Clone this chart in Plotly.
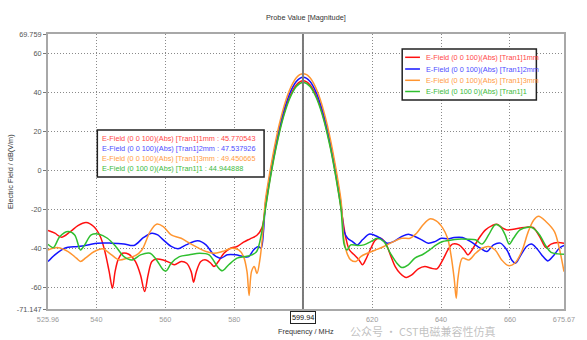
import plotly.graph_objects as go

# ---------------- data (frequency MHz, field dB(V/m)) ----------------
red_f = [525.96, 527.96, 529.87, 532.26, 534.64, 537.03, 539.22, 541.13, 542.47, 543.71, 544.66, 545.42,
         546.28, 547.5, 549.4, 551.3, 552.8, 554.0, 555.0, 556.1, 557.45, 559.4, 561.3, 562.7, 564.6,
         566.2, 567.5, 568.2, 569.0, 570.3, 571.8, 573.2, 574.1, 575.4, 577.0, 578.9, 580.8, 582.7,
         584.6, 586.5, 588.0,
         589, 590, 591, 592, 593, 594, 595, 596, 597, 598, 599, 600, 601, 602, 603, 604, 605, 606, 607,
         608, 609, 610, 611,
         612.4, 613.4, 614.8, 616.2, 617.2, 618.1, 619.4, 621.0, 622.4, 623.9, 625.3, 626.7, 628.1,
         629.9, 631.5, 633.4, 635.3, 637.2, 638.8, 640.5, 642.1, 643.3, 645.2, 646.7, 647.8, 649.0,
         651.0, 652.9, 654.8, 656.2, 657.6, 659.1, 661.0, 662.9, 664.8, 666.7, 668.6, 670.5, 671.9,
         673.9, 675.67]
red_db = [-30.9, -32.3, -34.4, -31.8, -28.4, -26.8, -28.9, -34.0, -41.7, -52.0, -60.5, -52.0,
          -46.0, -42.6, -43.1, -46.8, -53.7, -62.2, -53.7, -46.8, -45.5, -46.0, -47.4, -48.5, -46.8,
          -47.7, -52.0, -57.4, -52.0, -46.8, -46.0, -47.7, -49.4, -46.8, -42.6, -40.0, -39.1, -36.9,
          -35.2, -33.5, -29.7,
          -19.6, -8.2, 2.0, 11.2, 19.3, 26.3, 32.3, 37.1, 40.9, 43.6, 45.2, 45.770543, 45.2, 43.6, 40.9,
          37.1, 32.3, 26.3, 19.3, 11.2, 2.0, -8.2, -19.6,
          -34.9, -40.9, -43.4, -46.0, -48.5, -46.0, -40.9, -35.7, -34.9, -37.4, -43.4, -49.4, -52.8,
          -55.0, -53.7, -50.6, -49.4, -50.3, -50.6, -46.0, -40.5, -37.9, -38.3, -40.9, -43.4, -40.9,
          -34.9, -30.6, -28.4, -27.7, -29.4, -30.6, -30.3, -29.7, -29.2, -29.4, -34.0, -39.7, -37.9,
          -37.1, -37.4]

blue_f = [525.96, 527.96, 530.8, 534.64, 537.5, 540.4, 544.2, 548.0, 550.9, 553.7, 556.1, 557.8,
          559.4, 561.7, 563.7, 566.0, 569.4, 571.8, 574.1, 576.1, 578.0, 580.4, 582.7, 584.2, 585.6,
          587.0, 587.8, 588.5,
          589, 590, 591, 592, 593, 594, 595, 596, 597, 598, 599, 600, 601, 602, 603, 604, 605, 606, 607,
          608, 609, 610, 611,
          611.9, 612.9, 614.3, 615.7, 617.2, 619.1, 620.5, 622.4, 624.3, 626.2, 628.6, 630.5, 632.4,
          634.4, 636.3, 638.2, 640.1, 642.0, 643.8, 646.2, 648.6, 651.4, 653.3, 655.2, 657.2, 659.1,
          660.5, 661.6, 662.9, 664.8, 666.2, 667.7, 669.6, 671.0, 672.4, 674.3, 675.67]
blue_db = [-46.8, -43.4, -40.0, -39.1, -38.3, -37.4, -37.4, -37.8, -38.6, -34.5, -32.3, -33.2,
           -35.7, -39.1, -40.3, -38.3, -36.2, -38.3, -43.4, -45.1, -43.4, -43.4, -44.3, -44.3, -40.9,
           -39.1, -40.0, -31.0,
           -17.8, -6.5, 3.8, 12.9, 21.0, 28.1, 34.0, 38.9, 42.7, 45.4, 47.0, 47.537926, 47.0, 45.4, 42.7,
           38.9, 34.0, 28.1, 21.0, 12.9, 3.8, -6.5, -17.8,
           -31.5, -34.9, -36.6, -38.3, -35.7, -32.8, -33.2, -34.9, -37.4, -36.6, -34.0, -32.8, -34.0,
           -35.7, -37.4, -36.6, -34.9, -35.2, -34.5, -34.5, -36.6, -40.0, -41.7, -38.3, -37.4, -40.9,
           -46.0, -47.7, -44.3, -39.1, -37.9, -40.0, -44.3, -46.5, -44.3, -40.0, -38.6]

orange_f = [525.96, 528.9, 531.8, 534.2, 535.4, 537.0, 539.4, 541.8, 544.2, 546.6, 549.0, 551.3,
            553.2, 555.6, 557.45, 559.4, 561.7, 564.6, 567.0, 569.4, 571.8, 574.1, 576.5, 579.4,
            581.3, 582.7, 583.7, 584.3, 585.0, 585.8, 586.6, 587.5, 588.4,
            589, 590, 591, 592, 593, 594, 595, 596, 597, 598, 599, 600, 601, 602, 603, 604, 605, 606,
            607, 608, 609, 610, 611,
            611.9, 612.9, 613.8, 615.3, 616.7, 618.6, 621.0, 623.4, 626.2, 628.6, 631.0, 632.9, 634.8,
            636.7, 638.6, 640.5, 641.9, 642.8, 643.8, 644.4, 644.9, 646.2, 648.1, 650.0, 651.9, 653.8,
            655.7, 657.6, 659.5, 661.4, 663.4, 665.3, 666.9, 668.3, 670.4, 672.9, 674.3, 675.67]
orange_db = [-40.9, -39.7, -41.7, -45.1, -46.8, -44.8, -41.7, -40.3, -43.1, -46.0, -45.1, -43.8,
             -40.9, -31.5, -27.7, -28.9, -33.2, -34.9, -37.4, -39.7, -41.7, -42.6, -41.7, -40.0,
             -40.9, -44.3, -52.0, -64.2, -52.0, -49.4, -52.9, -45.1, -29.7,
             -15.9, -4.5, 5.7, 14.9, 23.0, 30.0, 36.0, 40.8, 44.6, 47.3, 48.9, 49.450665, 48.9, 47.3,
             44.6, 40.8, 36.0, 30.0, 23.0, 14.9, 5.7, -4.5, -15.9,
             -36.6, -43.4, -46.0, -46.8, -44.3, -42.6, -40.9, -39.1, -36.6, -34.9, -34.9, -32.3, -28.0,
             -25.0, -26.0, -29.7, -34.9, -42.6, -55.4, -65.6, -55.4, -45.1, -46.0, -42.6, -40.0, -39.1,
             -40.9, -46.0, -48.9, -47.7, -41.7, -31.5, -25.5, -23.6, -26.3, -31.5, -40.0, -52.0]

green_f = [525.96, 527.5, 529.4, 531.8, 533.7, 535.4, 536.6, 538.5, 540.8, 543.2, 545.6, 548.0,
           550.4, 552.8, 555.6, 557.45, 559.4, 560.3, 561.7, 564.1, 567.0, 569.9, 572.7, 575.1,
           576.5, 578.4, 580.8, 583.2, 585.1, 586.5, 588.0,
           589, 590, 591, 592, 593, 594, 595, 596, 597, 598, 599, 600, 601, 602, 603, 604, 605, 606,
           607, 608, 609, 610, 611,
           611.9, 612.7, 613.8, 615.7, 617.6, 619.6, 621.5, 623.4, 625.3, 627.2, 628.6, 630.5, 632.4,
           634.8, 636.7, 638.6, 640.5, 642.1, 644.8, 647.6, 650.0, 651.9, 653.8, 655.7, 657.2, 658.6,
           659.8, 661.0, 662.9, 665.3, 666.7, 668.6, 670.5, 671.9, 673.9, 675.67]
green_db = [-38.0, -39.7, -34.0, -31.5, -33.2, -40.9, -38.3, -33.2, -32.8, -34.9, -39.1, -44.3,
            -46.0, -43.4, -42.6, -46.0, -51.1, -51.6, -47.7, -44.3, -43.4, -42.6, -43.4, -49.4,
            -51.6, -48.5, -45.1, -44.3, -43.4, -41.7, -31.5,
            -20.4, -9.1, 1.2, 10.4, 18.4, 25.5, 31.4, 36.3, 40.1, 42.8, 44.4, 44.944888, 44.4, 42.8,
            40.1, 36.3, 31.4, 25.5, 18.4, 10.4, 1.2, -9.1, -20.4,
            -38.3, -40.9, -38.3, -38.6, -38.3, -36.6, -34.9, -36.6, -42.6, -47.7, -49.9, -48.5, -45.1,
            -43.1, -40.9, -38.3, -36.6, -36.1, -35.4, -35.4, -35.7, -37.9, -33.2, -28.0, -28.9, -33.2,
            -37.9, -34.9, -30.6, -29.2, -29.7, -33.2, -39.1, -42.1, -42.9, -43.1]

series_names = ["E-Field (0 0 100)(Abs) [Tran1]1mm",
                "E-Field (0 0 100)(Abs) [Tran1]2mm",
                "E-Field (0 0 100)(Abs) [Tran1]3mm",
                "E-Field (0 100 0)(Abs) [Tran1]1"]
marker_values = ["45.770543", "47.537926", "49.450665", "44.944888"]
marker_freq = 599.94

x_ticks = [525.96, 540, 560, 580, 600, 620, 640, 660, 675.67]
# the 600 label is hidden behind the marker readout box in the reference
x_tick_labels = ["525.96", "540", "560", "580", "", "620", "640", "660", "675.67"]
y_ticks = [-71.147, -60, -40, -20, 0, 20, 40, 60, 69.759]
y_tick_labels = ["-71.147", "-60", "-40", "-20", "0", "20", "40", "60", "69.759"]

line_colors = ["#ff1010", "#1414ff", "#ff9530", "#2fbf2f"]
text_colors = ["#ff4848", "#4e4eff", "#ff9c45", "#3cba3c"]

FONT = "Liberation Sans"
FS = 7.3

# ---------------- figure ----------------
W, H = 587, 340
L, R, T, B = 48, 16, 34, 31
PW, PH = W - L - R, H - T - B


def px(xp):
    return (xp - L) / PW


def py(yp):
    return (H - B - yp) / PH


fig = go.Figure()
all_f = [red_f, blue_f, orange_f, green_f]
all_db = [red_db, blue_db, orange_db, green_db]
for f, d, c, n in zip(all_f, all_db, line_colors, series_names):
    fig.add_trace(go.Scatter(x=f, y=d, mode="lines", name=n, showlegend=False,
                             line=dict(color=c, width=1.5, shape="spline", smoothing=0.9)))

fig.update_layout(
    width=W, height=H,
    margin=dict(l=L, r=R, t=T, b=B),
    plot_bgcolor="white", paper_bgcolor="white",
    font=dict(family=FONT, size=FS, color="#333"),
    showlegend=False,
)
fig.update_xaxes(range=[x_ticks[0], x_ticks[-1]], tickmode="array", tickvals=x_ticks,
                 ticktext=x_tick_labels, showgrid=True, gridcolor="#8a8a8a", griddash="1px,2px",
                 gridwidth=1, zeroline=False, showline=True, linecolor="#a8a8a8", linewidth=2,
                 mirror=True, ticks="", tickfont=dict(size=FS, color="#9a9a9a", family=FONT),
                 ticklabelstandoff=2)
fig.update_yaxes(range=[y_ticks[0], y_ticks[-1]], tickmode="array", tickvals=y_ticks,
                 ticktext=y_tick_labels, showgrid=True, gridcolor="#8a8a8a", griddash="1px,2px",
                 gridwidth=1, zeroline=False, showline=True, linecolor="#a8a8a8", linewidth=2,
                 mirror=True, ticks="outside", ticklen=3, tickcolor="#777",
                 tickfont=dict(size=FS, color="#555", family=FONT))

shapes = []
# marker line
shapes.append(dict(type="line", xref="x", yref="paper", x0=marker_freq, x1=marker_freq, y0=0, y1=1,
                   line=dict(color="#7a7a7a", width=2), layer="above"))
# legend box
shapes.append(dict(type="rect", xref="paper", yref="paper", x0=px(407), x1=px(543), y0=py(100), y1=py(49),
                   line=dict(color="#222", width=1.5), fillcolor="white", layer="above"))
# marker readout box
shapes.append(dict(type="rect", xref="paper", yref="paper", x0=px(98), x1=px(267), y0=py(177), y1=py(130),
                   line=dict(color="#222", width=1.5), fillcolor="white", layer="above"))

annotations = []
leg_rows = [57.3, 69.0, 80.3, 91.5]
box_rows = [138.3, 148.6, 158.6, 168.6]
for i in range(4):
    shapes.append(dict(type="line", xref="paper", yref="paper", x0=px(410), x1=px(425),
                       y0=py(leg_rows[i]), y1=py(leg_rows[i]),
                       line=dict(color=line_colors[i], width=1.5), layer="above"))
    annotations.append(dict(xref="paper", yref="paper", x=px(429), y=py(leg_rows[i]),
                            xanchor="left", yanchor="middle", showarrow=False, text=series_names[i],
                            font=dict(size=FS, color=text_colors[i], family=FONT)))
    annotations.append(dict(xref="paper", yref="paper", x=px(101), y=py(box_rows[i]),
                            xanchor="left", yanchor="middle", showarrow=False,
                            text=series_names[i] + " : " + marker_values[i],
                            font=dict(size=FS, color=text_colors[i], family=FONT)))

# titles
annotations.append(dict(xref="paper", yref="paper", x=0.5, y=py(17), xanchor="center", yanchor="middle",
                        showarrow=False, text="Probe Value [Magnitude]",
                        font=dict(size=FS, color="#333", family=FONT)))
annotations.append(dict(xref="paper", yref="paper", x=0.5, y=py(331), xanchor="center", yanchor="middle",
                        showarrow=False, text="Frequency / MHz",
                        font=dict(size=FS, color="#333", family=FONT)))
annotations.append(dict(xref="paper", yref="paper", x=px(10), y=0.5, xanchor="center", yanchor="middle",
                        showarrow=False, text="Electric Field / dB(V/m)", textangle=-90,
                        font=dict(size=FS, color="#333", family=FONT)))
# marker readout on the axis
annotations.append(dict(xref="x", yref="paper", x=marker_freq, y=py(317.5), xanchor="center",
                        yanchor="middle", showarrow=False, text="599.94", bgcolor="white",
                        bordercolor="#222", borderwidth=1, borderpad=1,
                        font=dict(size=FS, color="#111", family=FONT)))
# watermark (kept below the tick labels, inside the page)
annotations.append(dict(xref="paper", yref="paper", x=px(352), y=py(331), xanchor="left", yanchor="middle",
                        showarrow=False, text="公众号 · CST电磁兼容性仿真",
                        font=dict(size=11, color="rgba(140,140,140,0.55)", family="Noto Sans CJK SC")))

fig.update_layout(shapes=shapes, annotations=annotations)
fig.write_html("out.html")
